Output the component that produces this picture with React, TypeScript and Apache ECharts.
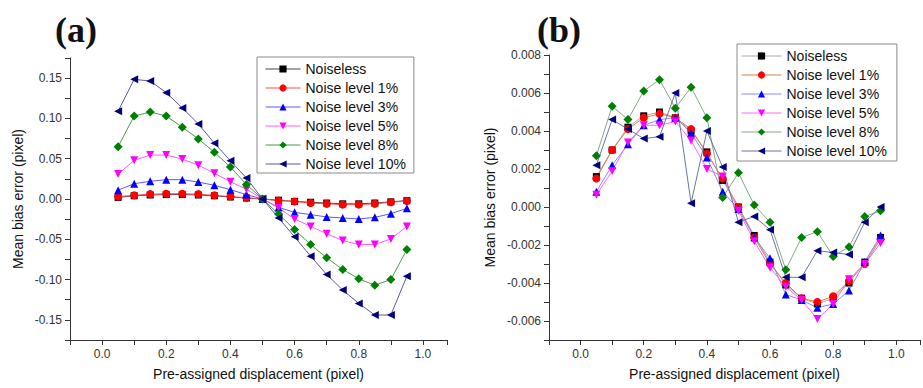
import React, { useEffect, useRef } from 'react';
import * as echarts from 'echarts';

const xValues = [0.05, 0.1, 0.15, 0.2, 0.25, 0.3, 0.35, 0.4, 0.45, 0.5, 0.55, 0.6, 0.65, 0.7, 0.75, 0.8, 0.85, 0.9, 0.95];

const seriesNames = ['Noiseless', 'Noise level 1%', 'Noise level 3%', 'Noise level 5%', 'Noise level 8%', 'Noise level 10%'];

// Panel (a)
const aNoiseless = [0.002, 0.004, 0.005, 0.0055, 0.0055, 0.005, 0.004, 0.0025, 0.0012, 0.0, -0.0015, -0.003, -0.004, -0.005, -0.006, -0.006, -0.005, -0.0035, -0.002];
const aNoise1 = [0.003, 0.0045, 0.006, 0.0065, 0.0065, 0.006, 0.0045, 0.003, 0.0015, 0.0, -0.002, -0.003, -0.005, -0.006, -0.007, -0.007, -0.006, -0.004, -0.0025];
const aNoise3 = [0.011, 0.019, 0.022, 0.024, 0.024, 0.021, 0.017, 0.0115, 0.0055, 0.0, -0.0104, -0.0166, -0.0194, -0.0223, -0.0235, -0.0248, -0.0228, -0.0182, -0.0116];
const aNoise5 = [0.031, 0.048, 0.0545, 0.0545, 0.0495, 0.042, 0.032, 0.0214, 0.0122, 0.0, -0.011, -0.0248, -0.034, -0.043, -0.0516, -0.0566, -0.0566, -0.0495, -0.034];
const aNoise8 = [0.065, 0.103, 0.108, 0.103, 0.089, 0.0746, 0.058, 0.0396, 0.018, 0.0, -0.0186, -0.038, -0.0566, -0.073, -0.0875, -0.099, -0.107, -0.0999, -0.0627];
const aNoise10 = [0.109, 0.1485, 0.1464, 0.132, 0.113, 0.0932, 0.0693, 0.0474, 0.026, 0.0, -0.0235, -0.047, -0.071, -0.0937, -0.113, -0.1296, -0.144, -0.144, -0.0958];

// Panel (b)
const bNoiseless = [0.0016, 0.003, 0.0042, 0.0048, 0.005, 0.0047, 0.004, 0.0029, 0.0014, 0.0, -0.0015, -0.0029, -0.0041, -0.0048, -0.0051, -0.0048, -0.004, -0.0029, -0.0016];
const bNoise1 = [0.0015, 0.003, 0.0041, 0.0047, 0.0049, 0.0047, 0.0041, 0.0028, 0.0015, 0.0, -0.0016, -0.003, -0.004, -0.0048, -0.005, -0.0047, -0.0039, -0.003, -0.0017];
const bNoise3 = [0.0008, 0.0022, 0.0033, 0.0043, 0.0046, 0.0047, 0.0039, 0.0026, 0.0008, -0.0001, -0.0016, -0.0027, -0.0046, -0.0049, -0.0053, -0.0051, -0.0044, -0.0029, -0.0015];
const bNoise5 = [0.00065, 0.0019, 0.0034, 0.0043, 0.0043, 0.0045, 0.0035, 0.002, 0.0016, -0.0002, -0.0018, -0.0032, -0.0042, -0.0049, -0.0059, -0.0051, -0.0038, -0.003, -0.0019];
const bNoise8 = [0.0027, 0.0053, 0.0046, 0.0061, 0.0067, 0.0052, 0.0063, 0.0047, 0.0005, 0.0018, 0.0001, -0.0008, -0.0033, -0.0016, -0.0013, -0.0026, -0.0021, -0.0005, -0.0002];
const bNoise10 = [0.0022, 0.0046, 0.0041, 0.0036, 0.0037, 0.006, 0.0002, 0.004, 0.0021, -0.0008, -0.0005, -0.0012, -0.0037, -0.0037, -0.0023, -0.0024, -0.0025, -0.0008, 0.0];

const panelA = [aNoiseless, aNoise1, aNoise3, aNoise5, aNoise8, aNoise10];
const panelB = [bNoiseless, bNoise1, bNoise3, bNoise5, bNoise8, bNoise10];

const markerColors = ['#000000', '#ff0000', '#0000ff', '#ff00ff', '#008000', '#000080'];
const lineColorsA = ['#444444', '#ff4a4a', '#5a5aff', '#ff5aff', '#4a9a4a', '#5a5aa0'];
const lineColorsB = ['#a8a8a8', '#e0803a', '#8a8aff', '#ff66ff', '#86a886', '#6a74a4'];
const symbols = ['rect', 'circle', 'triangle', 'path://M0,0L10,0L5,10Z', 'diamond', 'path://M0,5L10,0L10,10Z'];
const symbolSizes = [7, 8, 8, 8, 9, 8];

const FONT = '"Liberation Sans", Arial, sans-serif';

function xLabel(v: number): string {
  const k = Math.round(v * 10);
  if (Math.abs(v * 10 - k) > 1e-6) return '';
  if (k < 0 || k > 10 || k % 2 !== 0) return '';
  return (k / 10).toFixed(1);
}
function yLabelA(v: number): string {
  const k = Math.round(v * 40);
  if (Math.abs(v * 40 - k) > 1e-6) return '';
  if (k % 2 !== 0) return '';
  return (k / 40).toFixed(2);
}
function yLabelB(v: number): string {
  const k = Math.round(v * 1000);
  if (Math.abs(v * 1000 - k) > 1e-6) return '';
  if (k % 2 !== 0) return '';
  return (k / 1000).toFixed(3);
}

const axisCommon = {
  axisLine: { show: true, onZero: false, lineStyle: { color: '#333', width: 1 } },
  axisTick: { show: true, inside: false, length: 5, lineStyle: { color: '#333', width: 1 } },
  splitLine: { show: false },
};

export default function App() {
  const ref = useRef<HTMLDivElement>(null);
  useEffect(() => {
    if (!ref.current) return;
    const chart = echarts.init(ref.current, undefined, { renderer: 'svg' });

    const makeSeries = (panel: number[][], gi: number, lineColors: string[]) =>
      panel.map((vals, i) => ({
        name: seriesNames[i],
        type: 'line',
        xAxisIndex: gi,
        yAxisIndex: gi,
        data: xValues.map((x, j) => [x, vals[j]]),
        symbol: symbols[i],
        symbolSize: symbolSizes[i],
        showSymbol: true,
        showAllSymbol: true,
        lineStyle: { color: lineColors[i], width: 1 },
        itemStyle: { color: markerColors[i] },
        emphasis: { disabled: true },
      }));

    const makeLegend = (left: number, top: number, lineColors: string[], itemWidth: number, padding: number[]) => ({
      orient: 'vertical',
      left,
      top,
      padding,
      itemGap: 5,
      itemWidth,
      itemHeight: 9,
      borderColor: '#8a8a8a',
      borderWidth: 1,
      backgroundColor: '#ffffff',
      selectedMode: false,
      textStyle: { fontSize: 14, fontFamily: FONT, color: '#111', lineHeight: 14 },
      data: seriesNames.map((n, i) => ({
        name: n,
        itemStyle: { color: markerColors[i], borderWidth: 0 },
        lineStyle: { color: lineColors[i], width: 1 },
      })),
    });

    chart.setOption({
      animation: false,
      backgroundColor: '#ffffff',
      grid: [
        { left: 70, top: 58, width: 377, height: 282 },
        { left: 549, top: 55, width: 374, height: 285 },
      ],
      xAxis: [0, 1].map((gi) => ({
        type: 'value',
        gridIndex: gi,
        min: -0.1,
        max: 1.075,
        interval: 0.1,
        ...axisCommon,
        axisLabel: { formatter: xLabel, margin: 8, fontSize: 12, color: '#333', fontFamily: FONT },
        name: 'Pre-assigned displacement (pixel)',
        nameLocation: 'middle',
        nameGap: 27,
        nameTextStyle: { fontSize: 14, color: '#111', fontFamily: FONT },
      })),
      yAxis: [
        {
          type: 'value',
          gridIndex: 0,
          min: -0.175,
          max: 0.175,
          interval: 0.025,
          ...axisCommon,
          axisLabel: { formatter: yLabelA, margin: 8, fontSize: 12, color: '#333', fontFamily: FONT },
          name: 'Mean bias error (pixel)',
          nameLocation: 'middle',
          nameGap: 45,
          nameTextStyle: { fontSize: 14, color: '#111', fontFamily: FONT },
        },
        {
          type: 'value',
          gridIndex: 1,
          min: -0.007,
          max: 0.008,
          interval: 0.001,
          ...axisCommon,
          axisLabel: { formatter: yLabelB, margin: 8, fontSize: 12, color: '#333', fontFamily: FONT },
          name: 'Mean bias error (pixel)',
          nameLocation: 'middle',
          nameGap: 52,
          nameTextStyle: { fontSize: 14, color: '#111', fontFamily: FONT },
        },
      ],
      legend: [
        makeLegend(257, 57, lineColorsA, 35, [5, 8, 2, 8]),
        makeLegend(737, 44, lineColorsB, 40, [5, 10, 3, 4]),
      ],
      graphic: [
        {
          type: 'text',
          left: 55,
          top: 12,
          style: { text: '(a)', font: 'bold 36px "Liberation Serif", "DejaVu Serif", serif', fill: '#111' },
        },
        {
          type: 'text',
          left: 537,
          top: 12,
          style: { text: '(b)', font: 'bold 36px "Liberation Serif", "DejaVu Serif", serif', fill: '#111' },
        },
      ],
      series: [...makeSeries(panelA, 0, lineColorsA), ...makeSeries(panelB, 1, lineColorsB)],
    });

    return () => chart.dispose();
  }, []);

  return (
    <div
      ref={ref}
      style={{ position: 'fixed', left: 0, top: 0, width: 923, height: 388, background: '#fff' }}
    />
  );
}
